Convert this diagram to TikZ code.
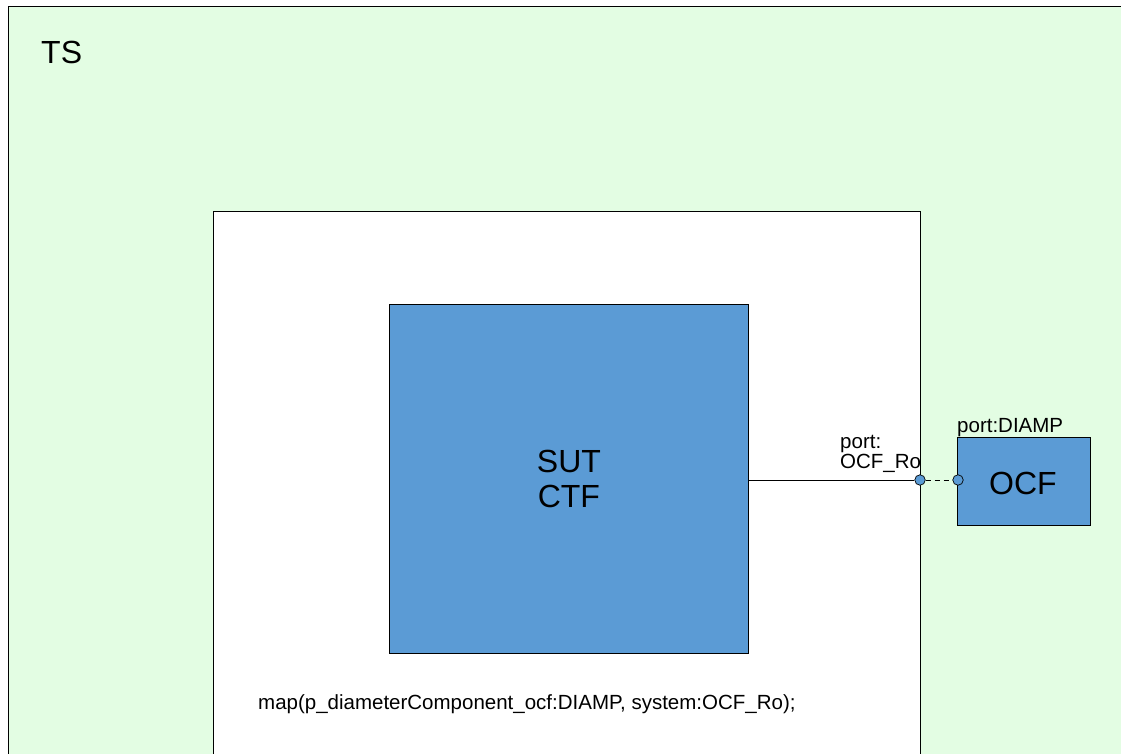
\documentclass[tikz,border=0pt]{standalone}
\usepackage{fontspec}
\setmainfont{Liberation Sans}
\definecolor{tsgreen}{RGB}{227,253,227}
\definecolor{boxblue}{RGB}{91,155,213}
\begin{document}
\begin{tikzpicture}[x=1pt,y=-1pt,
  big/.style={font=\fontsize{32}{36}\selectfont},
  small/.style={font=\fontsize{20.5}{23}\selectfont, inner sep=0pt},
  blk/.style={draw=black, fill=boxblue, line width=0.8pt},
  port/.style={circle, draw=black, fill=boxblue, minimum size=10.5pt, inner sep=0pt, line width=0.7pt}]
\useasboundingbox (0,0) rectangle (1121,754);
\begin{scope}
\clip (0,0) rectangle (1121,754);
\fill[tsgreen] (8,6) rectangle (1121,754);
\draw[line width=0.8pt] (8,760) -- (8,6) -- (1130,6);
\fill[white] (213,211) rectangle (920,754);
\draw[line width=0.8pt] (213,760) -- (213,211) -- (920,211) -- (920,760);
\end{scope}
\node[big, anchor=west, inner sep=0pt] (ts) at (41,52) {TS};
\node[blk, minimum width=359pt, minimum height=349pt, anchor=north west, inner sep=0pt] (sut) at (389,304) {};
\node[big, align=center] (sutl) at (sut.center) {SUT\\[-1pt]CTF};
\node[blk, minimum width=133pt, minimum height=88pt, anchor=north west, inner sep=0pt] (ocf) at (957,437) {};
\node[big, inner sep=0pt] (ocfl) at (1023,483) {OCF};
\node[port] (p1) at (920,480) {};
\node[port] (p2) at (958,480) {};
\draw[line width=0.8pt] (sut.east |- p1) -- (p1.west);
\draw[line width=0.8pt, dashed, dash pattern=on 5pt off 4pt] (p1.east) -- (p2.west);
\node[small, anchor=base west] (pl1) at (840,448) {port:};
\node[small, anchor=base west] (pl2) at (840,468) {OCF\_Ro};
\node[small, anchor=base west] (pl3) at (957,432) {port:DIAMP};
\node[small, anchor=base west] (map) at (258,709) {map(p\_diameterComponent\_ocf:DIAMP, system:OCF\_Ro);};
\end{tikzpicture}
\end{document}
